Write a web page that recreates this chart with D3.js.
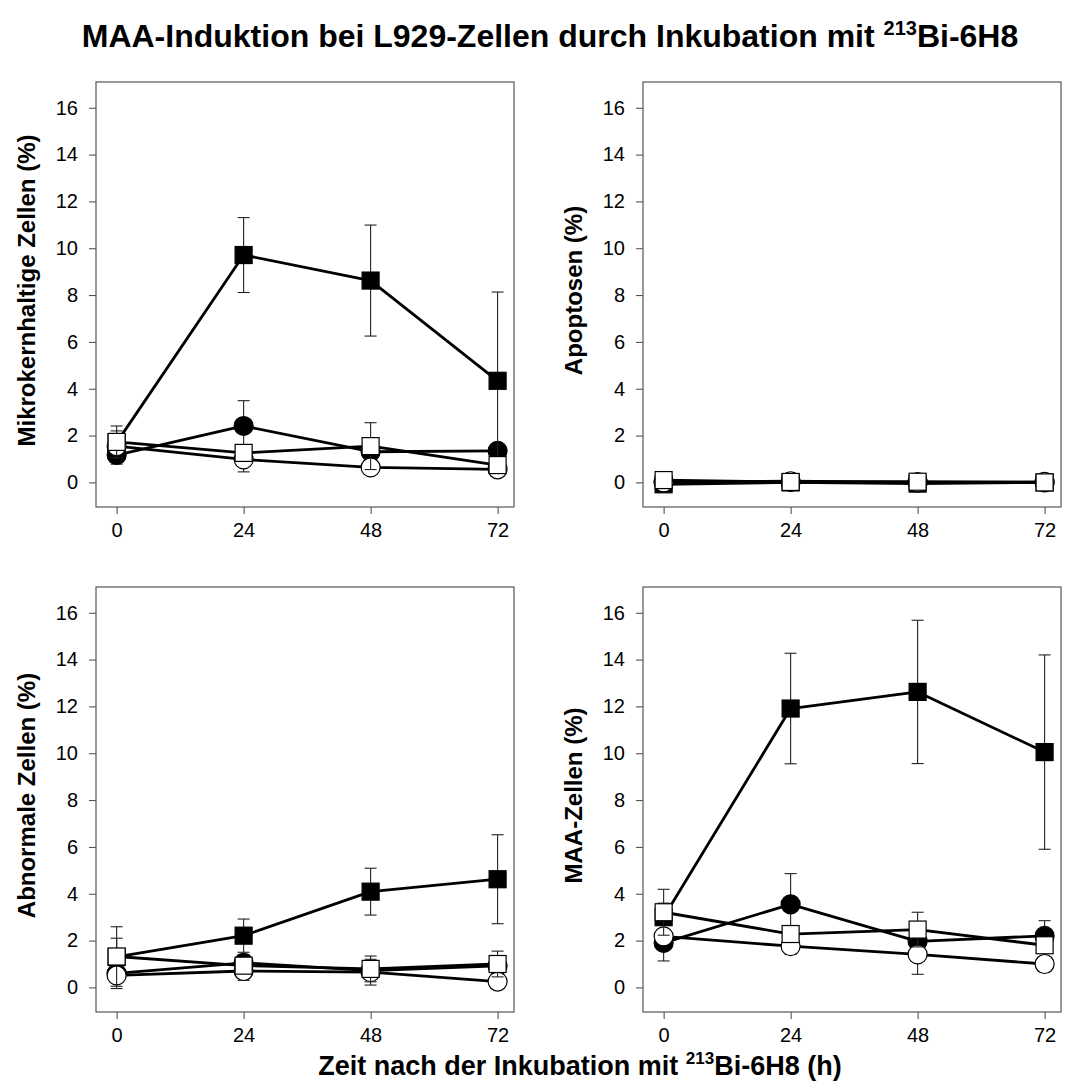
<!DOCTYPE html>
<html>
<head>
<meta charset="utf-8">
<script src="https://cdnjs.cloudflare.com/ajax/libs/d3/7.8.5/d3.min.js"></script>
<style>
body { margin: 0; background: #fff; }
svg text { font-family: "Liberation Sans", Arial, sans-serif; fill: #000; }
</style>
</head>
<body>
<svg id="chart" width="1068" height="1085"></svg>
<script>
// Zeitpunkte und Achsen
var zeit = [0, 24, 48, 72];
var yTicks = [0, 2, 4, 6, 8, 10, 12, 14, 16];
var panelNamen = ["Mikrokernhaltige Zellen (%)", "Apoptosen (%)", "Abnormale Zellen (%)", "MAA-Zellen (%)"];

// Reihenfolge der Serien: gefuellter Kreis, gefuelltes Quadrat, offener Kreis, offenes Quadrat
var symbole = ["circle", "square", "circle", "square"];
var gefuellt = [true, true, false, false];

var mikrokernMittel = [[1.17, 2.41, 1.31, 1.35], [1.7, 9.71, 8.62, 4.34], [1.55, 0.98, 0.64, 0.56], [1.73, 1.26, 1.55, 0.74]];
var mikrokernSd = [[0.39, 1.08, 0.3, 0.25], [0.5, 1.6, 2.37, 3.79], [0.3, 0.53, 0.2, 0.1], [0.68, 0.3, 1.0, 0.2]];

var apoptoseMittel = [[0.02, 0.02, 0.0, 0.0], [-0.08, 0.0, -0.05, 0.0], [0.0, 0.05, 0.0, 0.02], [0.1, 0.02, 0.03, 0.0]];
var apoptoseSd = [[0.05, 0.05, 0.05, 0.05], [0.05, 0.05, 0.05, 0.05], [0.05, 0.05, 0.05, 0.05], [0.08, 0.05, 0.05, 0.05]];

var abnormalMittel = [[0.6, 1.05, 0.72, 0.92], [1.3, 2.21, 4.09, 4.62], [0.51, 0.7, 0.65, 0.25], [1.32, 0.93, 0.79, 1.0]];
var abnormalSd = [[0.4, 0.35, 0.3, 0.3], [0.8, 0.71, 1.0, 1.9], [0.56, 0.4, 0.55, 0.1], [1.27, 0.3, 0.55, 0.55]];

var maaMittel = [[1.9, 3.55, 1.97, 2.2], [3.0, 11.91, 12.62, 10.05], [2.18, 1.76, 1.41, 1.0], [3.21, 2.28, 2.47, 1.8]];
var maaSd = [[0.77, 1.31, 0.3, 0.65], [0.6, 2.36, 3.06, 4.15], [0.3, 0.35, 0.85, 0.2], [0.98, 0.3, 0.74, 0.3]];

var panelMittel = [mikrokernMittel, apoptoseMittel, abnormalMittel, maaMittel];
var panelSd = [mikrokernSd, apoptoseSd, abnormalSd, maaSd];

var svg = d3.select("#chart");
var w = 418, h = 425;
var orte = [{x: 96, y: 82}, {x: 643, y: 82}, {x: 96, y: 587}, {x: 643, y: 587}];

var x = d3.scaleLinear().domain([-3.9, 75.1]).range([0, w]);
var y = d3.scaleLinear().domain([-1.05, 17.1]).range([h, 0]);

var line = d3.line()
	.x(function(d) { return x(d.t); })
	.y(function(d) { return y(d.v); });

for (var p = 0; p < 4; p++) {
	var g = svg.append("g").attr("transform", "translate(" + orte[p].x + "," + orte[p].y + ")");

	var ya = g.append("g")
		.call(d3.axisLeft(y).tickValues(yTicks).tickSize(7).tickPadding(11));
	ya.select(".domain").remove();
	ya.selectAll("line").attr("stroke", "#444");
	ya.selectAll("text").attr("font-size", "20px").attr("fill", "#000");

	var xa = g.append("g")
		.attr("transform", "translate(0," + h + ")")
		.call(d3.axisBottom(x).tickValues(zeit).tickSize(7).tickPadding(9));
	xa.select(".domain").remove();
	xa.selectAll("line").attr("stroke", "#444");
	xa.selectAll("text").attr("font-size", "20px").attr("fill", "#000");

	g.append("rect")
		.attr("width", w).attr("height", h)
		.attr("fill", "none").attr("stroke", "#555").attr("stroke-width", 1.2);

	g.append("text")
		.attr("transform", "translate(-61," + (h / 2 - 4) + ") rotate(-90)")
		.attr("text-anchor", "middle")
		.attr("font-size", "24px")
		.attr("font-weight", "bold")
		.text(panelNamen[p]);

	for (var s = 0; s < 4; s++) {
		var daten = zeit.map(function(t, i) {
			return {t: t, v: panelMittel[p][s][i], sd: panelSd[p][s][i]};
		});

		g.append("path")
			.datum(daten)
			.attr("fill", "none")
			.attr("stroke", "#000")
			.attr("stroke-width", 2.8)
			.attr("stroke-linejoin", "round")
			.attr("d", line);

		var fehler = g.append("g").attr("stroke", "#222").attr("stroke-width", 1.1);
		fehler.selectAll("line.v").data(daten).enter().append("line")
			.attr("x1", function(d) { return x(d.t); })
			.attr("x2", function(d) { return x(d.t); })
			.attr("y1", function(d) { return y(d.v - d.sd); })
			.attr("y2", function(d) { return y(d.v + d.sd); });
		fehler.selectAll("line.o").data(daten).enter().append("line")
			.attr("x1", function(d) { return x(d.t) - 6; })
			.attr("x2", function(d) { return x(d.t) + 6; })
			.attr("y1", function(d) { return y(d.v + d.sd); })
			.attr("y2", function(d) { return y(d.v + d.sd); });
		fehler.selectAll("line.u").data(daten).enter().append("line")
			.attr("x1", function(d) { return x(d.t) - 6; })
			.attr("x2", function(d) { return x(d.t) + 6; })
			.attr("y1", function(d) { return y(d.v - d.sd); })
			.attr("y2", function(d) { return y(d.v - d.sd); });

		var fill = gefuellt[s] ? "#000" : "#fff";
		if (symbole[s] === "circle") {
			g.selectAll(null).data(daten).enter().append("circle")
				.attr("cx", function(d) { return x(d.t); })
				.attr("cy", function(d) { return y(d.v); })
				.attr("r", 9.5)
				.attr("fill", fill)
				.attr("stroke", "#000")
				.attr("stroke-width", 1.2);
		} else {
			g.selectAll(null).data(daten).enter().append("rect")
				.attr("x", function(d) { return x(d.t) - 8.5; })
				.attr("y", function(d) { return y(d.v) - 8.5; })
				.attr("width", 17)
				.attr("height", 17)
				.attr("fill", fill)
				.attr("stroke", "#000")
				.attr("stroke-width", 1.2);
		}
	}
}

// Titel
var titel = svg.append("text")
	.attr("x", 550).attr("y", 47)
	.attr("text-anchor", "middle")
	.attr("font-size", "32px")
	.attr("font-weight", "bold");
titel.append("tspan").text("MAA-Induktion bei L929-Zellen durch Inkubation mit ");
titel.append("tspan").attr("dy", -12).attr("font-size", "20px").text("213");
titel.append("tspan").attr("dy", 12).text("Bi-6H8");

var xtitel = svg.append("text")
	.attr("x", 580).attr("y", 1075)
	.attr("text-anchor", "middle")
	.attr("font-size", "27px")
	.attr("font-weight", "bold");
xtitel.append("tspan").text("Zeit nach der Inkubation mit ");
xtitel.append("tspan").attr("dy", -11).attr("font-size", "17px").text("213");
xtitel.append("tspan").attr("dy", 11).text("Bi-6H8 (h)");
</script>
</body>
</html>
